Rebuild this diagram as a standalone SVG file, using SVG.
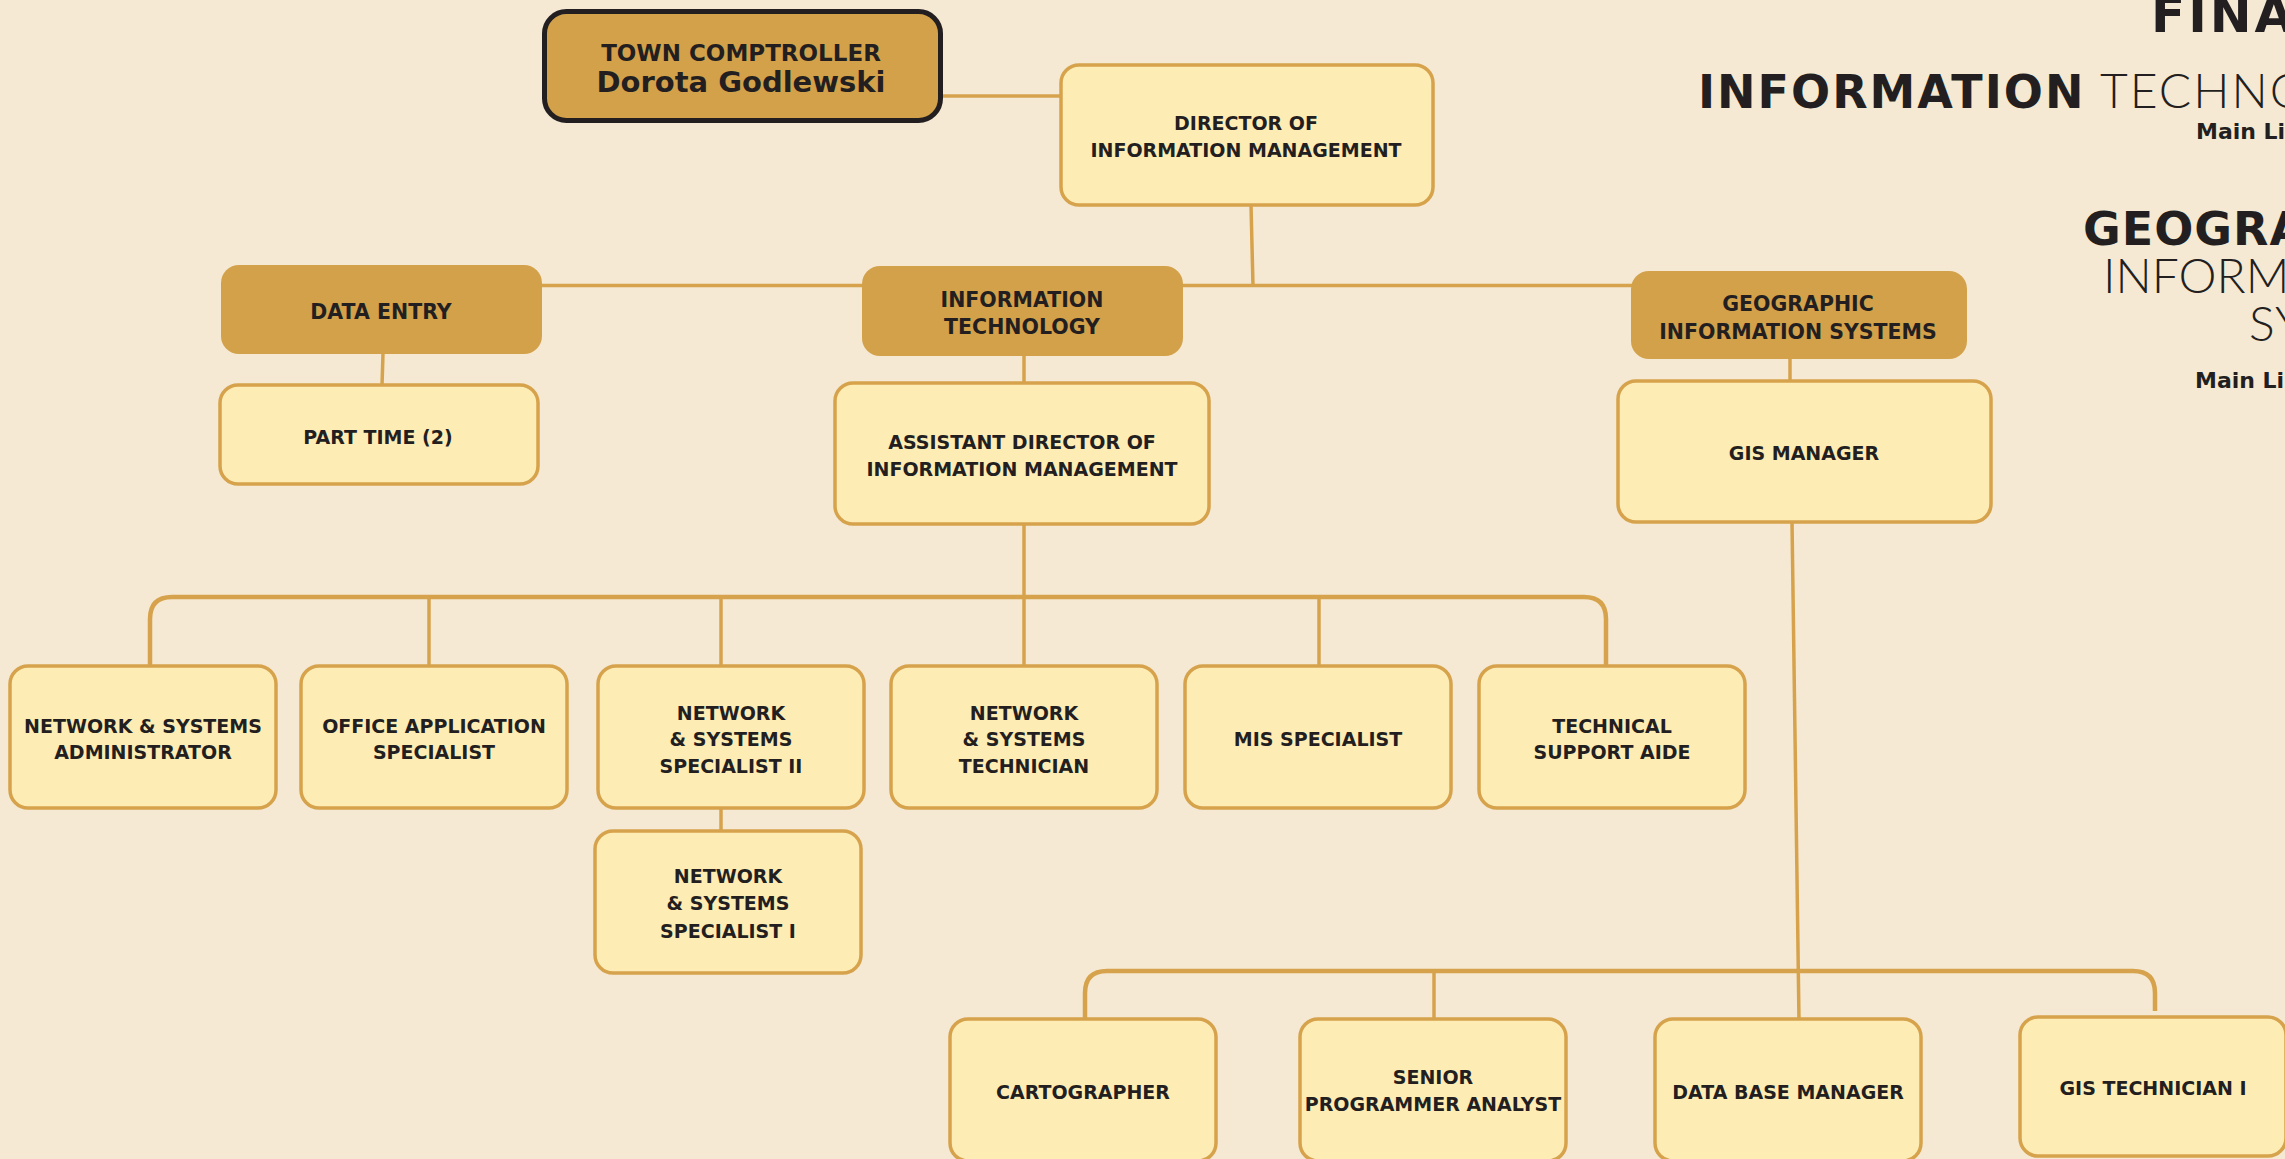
<svg xmlns="http://www.w3.org/2000/svg" width="2285" height="1159" viewBox="0 0 2285 1159">
<style>
.bg{fill:#f5e9d3}
.lt{fill:#feecb5;stroke:#d6a34c;stroke-width:3.5}
.hd{fill:#d3a14a;stroke:none}
.cn{fill:none;stroke:#d6a34c;stroke-width:3.5}
.bus{fill:none;stroke:#d6a34c;stroke-width:4.5}
.n{font-family:"DejaVu Sans","Liberation Sans",sans-serif;font-weight:bold;font-size:19px;fill:#231f20;text-anchor:middle}
.h{font-size:20.5px}
.c1{font-size:23px}
.c2{font-size:29px}
.tb{font-family:"DejaVu Sans","Liberation Sans",sans-serif;font-weight:bold;fill:#231f20}
.tl{font-family:"Lato Light","Open Sans Light","Lato","Open Sans",sans-serif;font-weight:300;fill:#231f20}
</style>
<rect class="bg" x="0" y="0" width="2285" height="1159"/>

<g id="titles">
<text class="tb" x="2151" y="32" font-size="50" letter-spacing="3">FINA</text>
<text class="tb" x="1698" y="108" font-size="46" letter-spacing="2">INFORMATION</text>
<text class="tl" x="2100" y="108" font-size="48" letter-spacing="2">TECHNO</text>
<text class="tb" x="2196" y="139" font-size="22">Main Li</text>
<text class="tb" x="2083" y="245" font-size="46" letter-spacing="1">GEOGRA</text>
<text class="tl" x="2103" y="293" font-size="48" letter-spacing="0">INFORM</text>
<text class="tl" x="2249" y="341" font-size="48" letter-spacing="1">SY</text>
<text class="tb" x="2195" y="388" font-size="22">Main Li</text>
</g>

<g id="connectors">
<line class="cn" x1="941" y1="96" x2="1062" y2="96"/>
<line class="cn" x1="1251" y1="205" x2="1253" y2="286"/>
<line class="cn" x1="540" y1="285.5" x2="1633" y2="285.5"/>
<line class="cn" x1="383" y1="353" x2="382" y2="386"/>
<line class="cn" x1="1024" y1="355" x2="1024" y2="384"/>
<line class="cn" x1="1790" y1="358" x2="1790" y2="382"/>
<line class="cn" x1="1024" y1="523" x2="1024" y2="667"/>
<path class="bus" d="M150 667 V619 Q150 597 172 597 H1584 Q1606 597 1606 619 V667"/>
<line class="cn" x1="429" y1="597" x2="429" y2="667"/>
<line class="cn" x1="721" y1="597" x2="721" y2="667"/>
<line class="cn" x1="1319" y1="597" x2="1319" y2="667"/>
<line class="cn" x1="721" y1="807" x2="721" y2="832"/>
<line class="cn" x1="1792" y1="521" x2="1799" y2="1020"/>
<path class="bus" d="M1085 1020 V993 Q1085 971 1107 971 H2133 Q2155 971 2155 993 V1011"/>
<line class="cn" x1="1434" y1="971" x2="1434" y2="1020"/>
</g>

<g id="comptroller">
<rect x="544.5" y="11.5" width="396" height="109" rx="22" fill="#d3a14a" stroke="#231f20" stroke-width="5"/>
<text class="n c1" x="741" y="61">TOWN COMPTROLLER</text>
<text class="n c2" x="741" y="92">Dorota Godlewski</text>
</g>

<g id="director">
<rect class="lt" x="1061" y="65" width="372" height="140" rx="18"/>
<text class="n" x="1246" y="130">DIRECTOR OF</text>
<text class="n" x="1246" y="157">INFORMATION MANAGEMENT</text>
</g>

<g id="data-entry">
<rect class="hd" x="221" y="265" width="321" height="89" rx="18"/>
<text class="n h" x="381" y="319">DATA ENTRY</text>
</g>

<g id="part-time">
<rect class="lt" x="220" y="385" width="318" height="99" rx="18"/>
<text class="n" x="378" y="444">PART TIME (2)</text>
</g>

<g id="info-tech">
<rect class="hd" x="862" y="266" width="321" height="90" rx="18"/>
<text class="n h" x="1022" y="307">INFORMATION</text>
<text class="n h" x="1022" y="334">TECHNOLOGY</text>
</g>

<g id="asst-director">
<rect class="lt" x="835" y="383" width="374" height="141" rx="18"/>
<text class="n" x="1022" y="449">ASSISTANT DIRECTOR OF</text>
<text class="n" x="1022" y="476">INFORMATION MANAGEMENT</text>
</g>

<g id="gis">
<rect class="hd" x="1631" y="271" width="336" height="88" rx="18"/>
<text class="n h" x="1798" y="311">GEOGRAPHIC</text>
<text class="n h" x="1798" y="339">INFORMATION SYSTEMS</text>
</g>

<g id="gis-manager">
<rect class="lt" x="1618" y="381" width="373" height="141" rx="18"/>
<text class="n" x="1804" y="460">GIS MANAGER</text>
</g>

<g id="ns-admin">
<rect class="lt" x="10" y="666" width="266" height="142" rx="18"/>
<text class="n" x="143" y="733">NETWORK &amp; SYSTEMS</text>
<text class="n" x="143" y="759">ADMINISTRATOR</text>
</g>

<g id="office-app">
<rect class="lt" x="301" y="666" width="266" height="142" rx="18"/>
<text class="n" x="434" y="733">OFFICE APPLICATION</text>
<text class="n" x="434" y="759">SPECIALIST</text>
</g>

<g id="nss-2">
<rect class="lt" x="598" y="666" width="266" height="142" rx="18"/>
<text class="n" x="731" y="720">NETWORK</text>
<text class="n" x="731" y="746">&amp; SYSTEMS</text>
<text class="n" x="731" y="773">SPECIALIST II</text>
</g>

<g id="ns-tech">
<rect class="lt" x="891" y="666" width="266" height="142" rx="18"/>
<text class="n" x="1024" y="720">NETWORK</text>
<text class="n" x="1024" y="746">&amp; SYSTEMS</text>
<text class="n" x="1024" y="773">TECHNICIAN</text>
</g>

<g id="mis">
<rect class="lt" x="1185" y="666" width="266" height="142" rx="18"/>
<text class="n" x="1318" y="746">MIS SPECIALIST</text>
</g>

<g id="tech-support">
<rect class="lt" x="1479" y="666" width="266" height="142" rx="18"/>
<text class="n" x="1612" y="733">TECHNICAL</text>
<text class="n" x="1612" y="759">SUPPORT AIDE</text>
</g>

<g id="nss-1">
<rect class="lt" x="595" y="831" width="266" height="142" rx="18"/>
<text class="n" x="728" y="883">NETWORK</text>
<text class="n" x="728" y="910">&amp; SYSTEMS</text>
<text class="n" x="728" y="938">SPECIALIST I</text>
</g>

<g id="cartographer">
<rect class="lt" x="950" y="1019" width="266" height="142" rx="18"/>
<text class="n" x="1083" y="1099">CARTOGRAPHER</text>
</g>

<g id="senior-programmer">
<rect class="lt" x="1300" y="1019" width="266" height="142" rx="18"/>
<text class="n" x="1433" y="1084">SENIOR</text>
<text class="n" x="1433" y="1111">PROGRAMMER ANALYST</text>
</g>

<g id="db-manager">
<rect class="lt" x="1655" y="1019" width="266" height="142" rx="18"/>
<text class="n" x="1788" y="1099">DATA BASE MANAGER</text>
</g>

<g id="gis-tech">
<rect class="lt" x="2020" y="1017" width="266" height="139" rx="18"/>
<text class="n" x="2153" y="1095">GIS TECHNICIAN I</text>
</g>
</svg>
